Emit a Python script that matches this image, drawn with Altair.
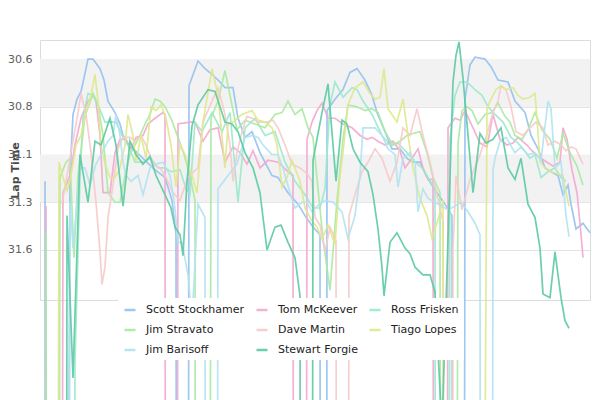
import altair as alt
import pandas as pd

# Race time (minutes) and lap time (seconds) for each driver
T_SCOTT = [0.5, 0.8, 3.0, 3.3, 3.7, 4.1, 4.4, 4.8, 5.3, 6.0, 6.4, 6.8, 7.5, 8.0, 8.3, 8.8, 9.5, 10.5, 11.5, 12.5, 13.2, 13.6, 14.2, 14.9, 15.8, 16.5, 17.2, 18.0, 18.5, 19.3, 19.8, 20.5, 21.2, 22.0, 23.2, 23.8, 24.8, 25.8, 26.5, 27.3, 28.0, 28.4, 28.7, 29.5, 30.3, 31.0, 31.7, 32.5, 33.2, 33.7, 34.5, 35.2, 36.0, 36.7, 37.3, 38.0, 38.7, 39.7, 40.5, 41.2, 41.8, 42.5, 43.0, 43.5, 44.5, 45.1, 45.8, 46.8, 47.5, 48.5, 49.1, 49.8, 50.5, 51.1, 51.8, 52.3, 52.8, 53.1, 53.6, 54.3, 55.0]
V_SCOTT = [31.24, 60, 31.21, 30.89, 30.81, 30.77, 30.70, 30.60, 30.60, 30.65, 30.71, 30.82, 30.88, 30.94, 31.00, 31.05, 31.08, 31.13, 31.18, 31.22, 31.34, 31.52, 60, 30.74, 30.61, 30.65, 30.68, 30.72, 30.75, 30.75, 30.91, 31.01, 30.98, 31.09, 31.21, 31.22, 31.30, 31.36, 31.42, 31.48, 31.52, 60, 30.87, 30.81, 30.76, 30.67, 30.65, 30.71, 30.79, 30.88, 30.98, 31.07, 31.07, 31.12, 31.14, 31.14, 31.22, 31.30, 31.36, 31.42, 60, 30.81, 30.63, 30.59, 30.60, 30.64, 30.71, 30.72, 30.82, 30.88, 31.00, 31.07, 31.17, 31.19, 31.21, 31.31, 31.26, 31.36, 31.49, 31.46, 31.51]

T_TOM = [0.6, 1.2, 2.3, 3.0, 3.5, 4.1, 4.8, 5.3, 5.6, 6.0, 6.3, 7.0, 7.5, 8.0, 8.6, 9.1, 9.6, 10.3, 10.8, 11.5, 12.3, 12.5, 13.0, 13.8, 15.0, 15.5, 16.3, 17.0, 17.8, 18.5, 19.3, 20.0, 20.7, 21.3, 22.0, 22.8, 23.8, 24.8, 25.3, 25.9, 26.7, 27.2, 27.7, 28.2, 28.8, 29.5, 30.3, 31.2, 32.0, 32.7, 33.2, 33.8, 34.5, 35.3, 36.0, 36.5, 37.2, 37.8, 38.3, 38.8, 39.3, 40.0, 40.8, 41.5, 42.0, 42.5, 43.3, 44.0, 44.7, 45.3, 46.0, 46.7, 47.3, 47.8, 48.7, 49.2, 49.8, 50.7, 51.3, 52.0, 52.3, 52.7, 53.2, 53.7, 54.0, 54.3]
V_TOM = [31.37, 60, 31.30, 31.21, 31.05, 30.91, 30.82, 30.79, 30.82, 31.00, 31.30, 31.30, 31.09, 31.02, 31.02, 31.07, 31.01, 31.00, 30.94, 30.91, 30.88, 30.89, 60, 30.94, 30.93, 30.93, 31.03, 30.97, 30.96, 31.14, 31.06, 31.09, 31.15, 31.08, 31.17, 31.13, 31.14, 31.19, 31.21, 60, 31.02, 30.93, 30.87, 30.83, 30.91, 30.91, 30.94, 30.96, 31.00, 31.02, 31.01, 31.03, 31.05, 31.03, 31.08, 31.17, 31.12, 31.07, 31.17, 31.23, 31.23, 60, 30.96, 30.91, 30.92, 30.87, 30.96, 31.04, 31.06, 30.89, 31.02, 31.05, 31.04, 31.01, 31.05, 31.08, 31.11, 31.14, 31.16, 31.14, 30.96, 31.02, 31.18, 31.30, 31.46, 31.64]

T_DAVE = [2.2, 2.8, 3.4, 3.8, 4.1, 4.6, 5.1, 5.6, 6.0, 6.2, 6.5, 6.8, 7.3, 7.8, 8.3, 9.0, 9.5, 10.1, 10.6, 11.3, 12.0, 12.6, 13.3, 14.0, 14.8, 15.8, 16.3, 17.2, 17.8, 18.5, 19.0, 19.3, 19.7, 20.2, 20.7, 21.2, 21.8, 22.7, 23.3, 23.8, 24.5, 25.2, 26.0, 26.7, 27.2, 27.5, 28.0, 28.5, 29.0, 29.6, 30.2, 30.9, 31.5, 32.2, 32.8, 33.5, 34.2, 35.0, 35.7, 36.3, 37.0, 37.7, 38.3, 39.0, 39.7, 40.3, 40.9, 41.3, 41.6, 42.2, 43.0, 43.8, 44.6, 45.3, 45.8, 46.1, 46.6, 47.1, 47.6, 48.3, 49.0, 49.6, 50.3, 50.8, 51.5, 52.1, 52.6, 53.1, 53.6, 54.3]
V_DAVE = [31.36, 31.18, 31.00, 30.88, 30.78, 30.89, 31.09, 31.35, 31.61, 31.78, 31.69, 31.43, 31.26, 31.07, 31.01, 31.01, 31.03, 31.00, 31.05, 31.15, 31.17, 31.22, 31.30, 31.34, 31.22, 31.17, 30.93, 30.82, 30.75, 30.89, 31.05, 31.24, 31.09, 30.98, 30.90, 30.91, 30.93, 30.93, 30.92, 30.96, 31.05, 31.15, 31.17, 31.20, 31.24, 31.43, 31.47, 31.61, 31.48, 31.55, 60, 31.42, 31.31, 31.19, 31.14, 31.07, 31.12, 31.24, 31.14, 30.96, 31.00, 30.86, 31.00, 31.14, 31.31, 31.45, 60, 31.60, 31.21, 31.39, 31.23, 31.13, 31.01, 30.88, 30.82, 30.74, 30.76, 30.85, 30.98, 31.00, 30.96, 30.93, 30.96, 31.05, 31.03, 31.05, 31.08, 31.06, 31.07, 31.15]

T_STRAVATO = [0.6, 1.0, 2.0, 2.6, 3.0, 3.4, 3.8, 4.5, 5.3, 5.8, 6.3, 6.8, 7.5, 8.0, 8.5, 9.0, 9.5, 10.0, 10.5, 11.0, 11.5, 12.0, 12.5, 13.1, 13.8, 14.4, 15.0, 15.5, 16.0, 17.1, 17.8, 18.5, 19.0, 19.7, 20.5, 21.5, 22.5, 23.5, 24.2, 24.8, 25.5, 26.2, 26.8, 27.3, 27.8, 28.3, 29.0, 29.7, 30.3, 30.8, 31.7, 32.5, 33.2, 33.8, 34.5, 35.3, 36.0, 36.7, 37.3, 38.0, 38.7, 39.3, 40.0, 40.6, 41.8, 42.2, 42.7, 43.2, 43.8, 44.5, 45.2, 45.8, 46.5, 47.0, 47.5, 48.2, 48.8, 49.5, 50.2, 51.0, 51.7, 52.3, 53.0, 53.7, 54.3]
V_STRAVATO = [31.50, 60, 31.22, 31.14, 31.12, 31.64, 31.21, 30.90, 30.78, 30.84, 31.00, 31.30, 31.35, 31.35, 31.21, 31.10, 31.05, 31.00, 30.94, 30.89, 30.81, 30.82, 30.85, 30.91, 31.01, 31.10, 31.21, 31.34, 60, 30.91, 30.82, 30.66, 30.79, 30.97, 30.92, 30.94, 30.96, 30.89, 30.88, 30.82, 30.89, 30.86, 30.96, 31.01, 31.28, 31.54, 31.81, 31.34, 31.02, 30.84, 30.85, 30.87, 30.86, 30.88, 30.98, 31.05, 31.03, 31.00, 30.99, 30.98, 31.09, 31.22, 31.30, 60, 31.04, 30.87, 30.85, 30.87, 30.94, 30.89, 30.88, 30.83, 30.90, 30.93, 31.00, 31.02, 30.97, 30.88, 30.97, 31.02, 31.12, 30.99, 31.09, 31.16, 31.26]

T_BARISOFF = [2.0, 3.0, 3.3, 4.0, 4.5, 5.0, 5.6, 6.1, 6.8, 7.3, 7.6, 8.0, 8.3, 8.6, 9.1, 9.8, 10.3, 11.0, 11.6, 12.3, 13.0, 13.5, 13.8, 14.2, 14.8, 15.2, 15.8, 16.5, 16.9, 17.8, 18.8, 19.7, 20.5, 21.3, 21.8, 22.3, 23.2, 23.8, 24.3, 25.0, 25.5, 26.2, 26.7, 27.2, 27.7, 28.5, 29.3, 30.2, 30.8, 31.5, 32.0, 32.3, 32.8, 33.5, 34.2, 34.8, 35.5, 35.8, 36.3, 37.0, 37.5, 37.8, 38.3, 38.8, 39.5, 40.2, 40.8, 41.5, 42.1, 42.8, 43.5, 44.0, 44.6, 45.3, 45.5, 46.0, 46.6, 47.5, 48.1, 48.8, 49.5, 50.1, 50.8, 51.1, 51.5, 52.1, 52.6, 52.9]
V_BARISOFF = [60, 31.35, 31.59, 31.17, 31.17, 31.26, 31.15, 31.10, 31.03, 31.00, 30.89, 31.00, 31.14, 31.21, 31.24, 31.21, 31.31, 31.17, 31.15, 31.14, 31.21, 31.38, 31.56, 31.56, 31.73, 31.97, 31.36, 31.43, 60, 31.28, 31.21, 31.15, 31.01, 31.00, 31.01, 31.05, 31.10, 31.10, 31.17, 31.30, 31.38, 31.35, 31.35, 31.40, 31.37, 31.34, 31.35, 31.40, 31.54, 31.42, 31.21, 30.96, 30.96, 30.96, 31.00, 31.07, 31.10, 31.27, 31.12, 31.09, 31.14, 31.40, 31.28, 31.33, 31.35, 31.37, 31.39, 31.37, 31.35, 31.40, 31.46, 31.52, 60, 31.18, 31.12, 31.03, 31.01, 31.09, 31.06, 31.10, 31.09, 31.13, 30.82, 30.86, 31.17, 31.14, 31.42, 31.53]

T_STEWART = [2.2, 2.7, 3.3, 4.0, 4.8, 5.5, 6.1, 7.0, 7.6, 8.3, 9.0, 9.6, 10.3, 11.0, 11.6, 12.5, 13.1, 13.5, 14.0, 14.3, 14.7, 15.2, 15.8, 16.8, 17.5, 18.5, 19.2, 19.8, 20.5, 21.3, 22.0, 22.7, 23.5, 24.1, 24.8, 25.5, 26.0, 26.5, 27.3, 28.2, 28.8, 29.6, 30.2, 30.7, 31.3, 32.0, 32.8, 33.3, 33.8, 34.2, 34.4, 35.0, 35.7, 36.5, 37.0, 37.5, 38.3, 39.0, 39.5, 40.2, 41.3, 41.6, 41.9, 42.3, 42.8, 43.3, 44.0, 44.6, 45.3, 46.1, 46.8, 47.5, 48.1, 48.8, 49.5, 50.0, 50.3, 51.0, 51.5, 52.1, 52.5, 52.9]
V_STEWART = [60, 31.42, 32.27, 31.10, 31.35, 31.03, 31.05, 30.91, 31.05, 31.37, 31.03, 31.10, 31.15, 31.11, 31.21, 31.31, 31.38, 31.48, 31.52, 31.63, 31.24, 30.95, 30.84, 30.76, 30.77, 30.93, 30.94, 30.98, 31.09, 31.17, 31.30, 31.60, 31.48, 31.47, 31.56, 31.64, 31.84, 60, 31.13, 30.88, 30.73, 31.24, 30.92, 30.94, 31.07, 31.14, 31.19, 31.31, 31.49, 31.69, 31.84, 31.56, 31.51, 31.59, 31.62, 31.69, 31.73, 31.73, 31.82, 32.54, 30.72, 30.58, 30.51, 30.70, 31.00, 31.30, 30.99, 31.04, 31.02, 30.96, 31.17, 31.23, 31.12, 31.36, 31.43, 31.59, 31.83, 31.85, 31.61, 31.85, 31.97, 32.01]

T_ROSS = [2.5, 3.5, 4.0, 4.3, 4.8, 5.3, 5.8, 6.5, 7.0, 7.6, 8.3, 8.8, 9.5, 10.3, 11.1, 11.8, 12.5, 13.1, 14.0, 14.6, 15.0, 15.5, 16.2, 17.2, 18.2, 19.0, 19.8, 20.5, 21.5, 22.5, 23.5, 24.5, 25.5, 26.5, 27.3, 28.0, 28.5, 29.0, 29.5, 30.3, 31.2, 31.7, 32.3, 33.2, 34.2, 35.0, 35.8, 36.7, 37.5, 38.2, 38.8, 39.5, 40.0, 41.0, 41.5, 42.0, 42.7, 43.5, 44.2, 44.8, 45.5, 46.3, 47.1, 47.8, 48.3, 49.0, 49.5, 50.1, 50.8, 51.5, 52.1, 52.6]
V_ROSS = [60, 32.18, 31.22, 30.91, 30.78, 30.79, 30.84, 30.93, 30.93, 30.93, 31.01, 31.05, 31.14, 31.14, 31.12, 31.17, 31.17, 31.19, 31.18, 31.28, 31.31, 30.93, 30.98, 30.88, 30.98, 30.88, 31.35, 30.96, 30.91, 31.00, 30.98, 31.14, 31.24, 31.31, 31.38, 31.38, 31.28, 30.84, 30.72, 30.80, 30.75, 30.76, 30.82, 30.89, 31.00, 31.05, 31.04, 31.09, 31.14, 31.17, 31.22, 31.28, 60, 31.02, 30.79, 30.72, 30.72, 30.76, 30.79, 30.85, 30.89, 30.93, 31.01, 31.04, 31.07, 31.12, 31.10, 31.22, 31.19, 31.17, 31.22, 31.24]

T_TIAGO = [0.5, 1.9, 2.3, 2.7, 3.1, 3.6, 4.1, 4.6, 5.1, 5.5, 5.8, 6.1, 6.5, 7.0, 7.5, 8.0, 8.5, 8.8, 9.3, 9.6, 10.1, 10.6, 11.1, 11.6, 12.1, 12.6, 13.1, 13.6, 14.0, 14.5, 15.2, 15.7, 16.3, 17.2, 17.8, 18.5, 18.8, 19.3, 20.2, 21.2, 21.8, 22.5, 23.2, 23.7, 24.2, 24.7, 25.2, 26.0, 26.5, 27.2, 27.7, 28.2, 28.8, 29.5, 30.0, 30.3, 30.8, 31.5, 32.3, 33.0, 33.5, 34.0, 34.4, 34.8, 35.7, 36.3, 36.8, 37.3, 38.0, 38.7, 39.2, 39.8, 40.3, 41.5, 44.7, 45.1, 45.6, 46.1, 46.6, 47.3, 47.8, 48.3, 49.0, 49.5, 49.7, 50.0, 50.5, 51.1, 51.8, 52.3, 52.6, 52.9]
V_TIAGO = [60, 31.14, 31.22, 31.29, 31.21, 31.05, 31.00, 30.88, 30.79, 30.68, 30.82, 31.05, 31.15, 31.22, 31.22, 31.17, 31.05, 30.89, 31.00, 31.14, 31.00, 31.12, 30.85, 30.87, 30.84, 30.91, 31.05, 31.27, 31.05, 31.10, 31.21, 31.30, 30.93, 30.65, 30.79, 31.17, 30.94, 30.93, 30.89, 30.87, 30.92, 30.93, 30.96, 31.05, 31.27, 31.22, 31.13, 31.24, 31.38, 31.45, 31.48, 31.54, 31.47, 31.57, 31.21, 31.09, 30.84, 30.75, 30.72, 30.78, 30.81, 30.80, 30.65, 30.86, 30.93, 30.81, 31.00, 31.17, 31.33, 31.42, 31.54, 31.44, 31.34, 60, 30.86, 30.81, 30.76, 30.74, 30.76, 30.75, 30.79, 30.81, 30.80, 30.78, 30.91, 31.14, 31.17, 31.19, 31.20, 31.21, 31.30, 31.37]

DRIVERS = ["Scott Stockhamer", "Tom McKeever", "Ross Frisken",
           "Jim Stravato", "Dave Martin", "Tiago Lopes",
           "Jim Barisoff", "Stewart Forgie"]
COLORS = ["#94c1f0", "#f2a9cf", "#9be9cb",
          "#aaeaa2", "#f7caca", "#dfe88e",
          "#b2e2f2", "#5ccaa2"]
SERIES = {
    "Scott Stockhamer": (T_SCOTT, V_SCOTT),
    "Tom McKeever": (T_TOM, V_TOM),
    "Ross Frisken": (T_ROSS, V_ROSS),
    "Jim Stravato": (T_STRAVATO, V_STRAVATO),
    "Dave Martin": (T_DAVE, V_DAVE),
    "Tiago Lopes": (T_TIAGO, V_TIAGO),
    "Jim Barisoff": (T_BARISOFF, V_BARISOFF),
    "Stewart Forgie": (T_STEWART, V_STEWART),
}

TICKS = [30.6, 30.85, 31.1, 31.35, 31.6]
BAND_FROM = [30.6, 31.1]
BAND_TO = [30.85, 31.35]

rows = []
for name, (ts, vs) in SERIES.items():
    for t, v in zip(ts, vs):
        rows.append({"driver": name, "t": t, "lap": v})
df = pd.DataFrame(rows)
bands = pd.DataFrame({"b0": BAND_FROM, "b1": BAND_TO})

yscale = alt.Scale(domain=[30.5, 31.862], reverse=True, nice=False, zero=False)
yaxis = alt.Axis(values=TICKS, grid=True, gridColor="#e3e3e3", domain=False,
                 ticks=False, labelPadding=8, labelFont="DejaVu Sans",
                 labelFontSize=11, labelColor="#606060",
                 labelExpr="format(floor(datum.value*10+0.001)/10, '.1f')",
                 title="Lap Time", titleFont="DejaVu Sans", titleFontSize=11,
                 titleFontWeight="bold", titleColor="#4a4a4a",
                 titleX=-25, titleY=130, titleBaseline="middle")

band_layer = alt.Chart(bands).mark_rect(color="#f2f2f2").encode(
    y=alt.Y("b0:Q", scale=yscale, axis=yaxis, title="Lap Time"),
    y2="b1:Q",
)

lines = alt.Chart(df).mark_line(strokeWidth=1.7, opacity=0.9, clip=False).encode(
    x=alt.X("t:Q", scale=alt.Scale(domain=[0, 55], nice=False, zero=False), axis=None),
    y=alt.Y("lap:Q", scale=yscale, axis=yaxis, title="Lap Time"),
    color=alt.Color("driver:N",
                    scale=alt.Scale(domain=DRIVERS, range=COLORS),
                    legend=alt.Legend(title=None, orient="none", legendX=78, legendY=258,
                                      direction="horizontal", columns=3,
                                      fillColor="white", padding=5,
                                      symbolType="stroke", symbolStrokeWidth=2.5,
                                      symbolSize=121, labelOffset=9,
                                      labelFont="DejaVu Sans", labelFontSize=11,
                                      labelColor="#222222", columnPadding=6,
                                      rowPadding=8)),
)

chart = alt.layer(band_layer, lines).properties(
    width=550, height=260,
    autosize=alt.AutoSizeParams(type="none"),
    padding={"left": 32, "top": 32, "right": 2, "bottom": 100},
    background="white",
).configure_view(stroke="#dcdcdc")

chart.save("out.html", embed_options={"renderer": "svg", "actions": False})
